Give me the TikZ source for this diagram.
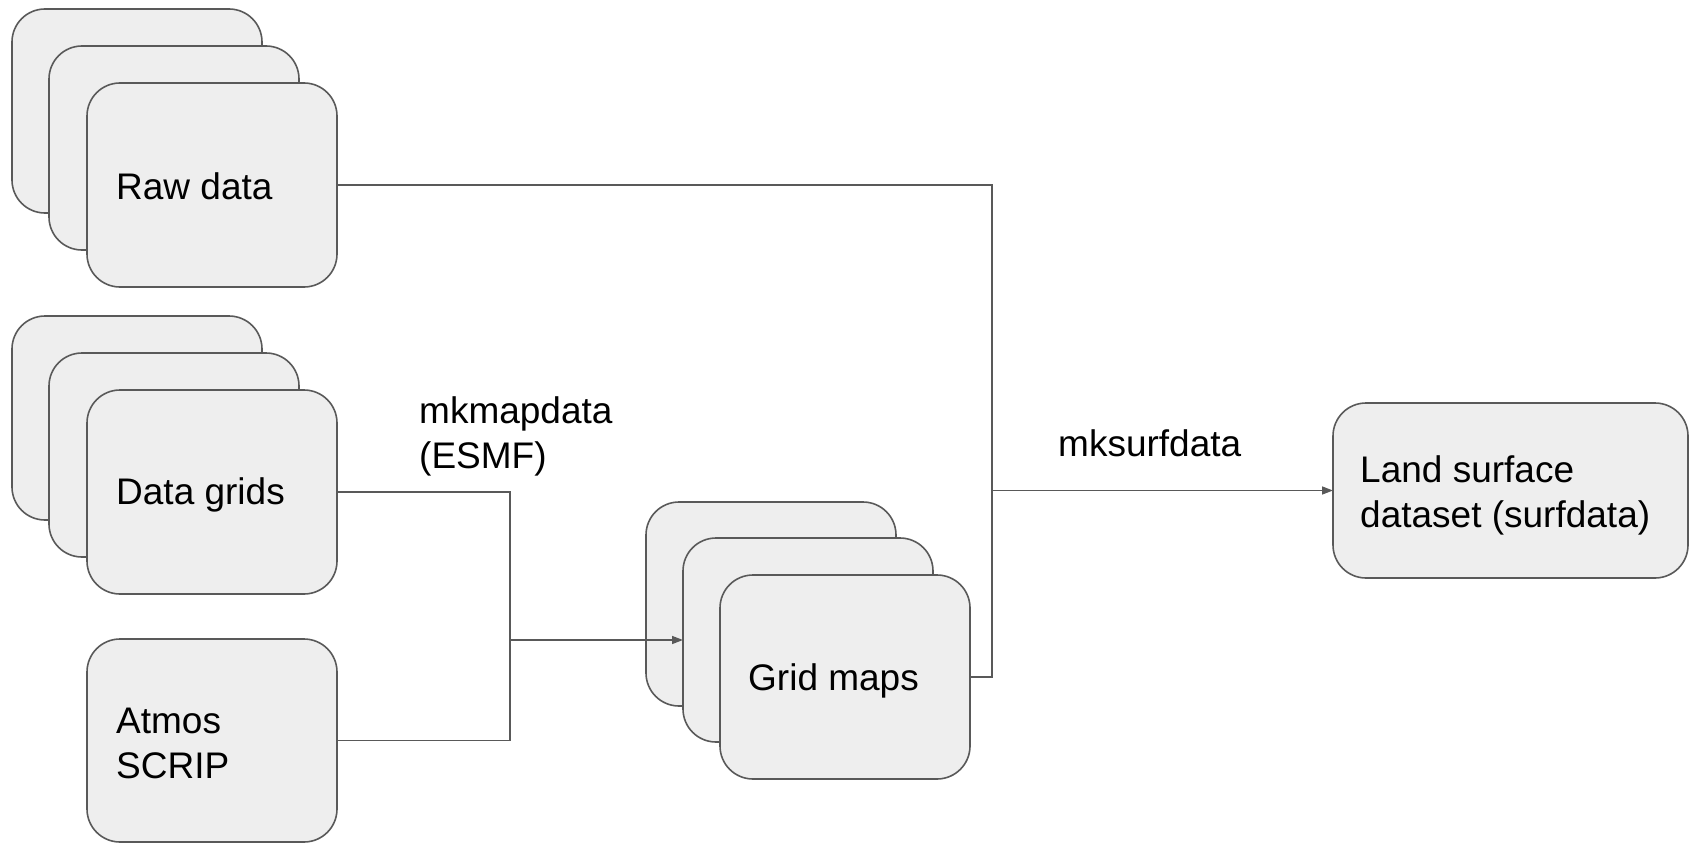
\documentclass[tikz,border=0pt]{standalone}
\usepackage{fontspec}
\setmainfont{Liberation Sans}
\usetikzlibrary{arrows.meta}
\definecolor{boxfill}{HTML}{EEEEEE}
\definecolor{edge}{HTML}{595959}
\tikzset{
  card/.style={draw=edge, line width=1.6pt, fill=boxfill, rounded corners=33pt,
    rectangle, minimum width=#1, minimum height=204pt, inner sep=0pt, outer sep=0pt,
    anchor=north west},
  card/.default=250pt,
  lbl/.style={font=\fontsize{37}{45}\selectfont, align=left, inner sep=0pt, anchor=base west, text=black},
  conn/.style={draw=edge, line width=1.5pt},
  arr/.style={conn, -{Triangle[length=11pt, width=8pt]}}
}
\begin{document}
\begin{tikzpicture}[x=1pt, y=-1pt]
\useasboundingbox (0,0) rectangle (1689,843);
% Raw data stack
\node[card] (rawA) at (12,9) {};
\node[card] (rawB) at (49,46) {};
\node[card] (raw) at (87,83) {};
\node[lbl] (rawT) at (116,199.5) {Raw data};
% Data grids stack
\node[card] (dgA) at (12,316) {};
\node[card] (dgB) at (49,353) {};
\node[card] (dg) at (87,390) {};
\node[lbl] (dgT) at (116,504) {Data grids};
% Atmos SCRIP (anchor is the baseline of the last line)
\node[card, minimum height=203pt] (atm) at (87,639) {};
\node[lbl] (atmT) at (116,778) {Atmos\\SCRIP};
% Grid maps stack
\node[card] (gmA) at (646,502) {};
\node[card] (gmB) at (683,538) {};
\node[card] (gm) at (720,575) {};
\node[lbl] (gmT) at (748,690.5) {Grid maps};
% Land surface dataset
\node[card=355pt, minimum height=175pt] (land) at (1333,403) {};
\node[lbl] (landT) at (1360,527) {Land surface\\dataset (surfdata)};
% labels
\node[lbl] (mkmap) at (419,468) {mkmapdata\\(ESMF)};
\node[lbl] (mksurf) at (1058,456) {mksurfdata};
% connectors
\coordinate (j1) at (510,640);
\coordinate (j2) at (992,490.5);
\draw[conn] (dg.east) -| (j1);
\draw[conn] (atm.east) -| (j1);
\draw[arr] (j1) -- (gmB.west);
\draw[conn] (raw.east) -| (j2);
\draw[conn] (gm.east) -| (j2);
\draw[arr] (j2) -- (land.west);
\end{tikzpicture}
\end{document}
